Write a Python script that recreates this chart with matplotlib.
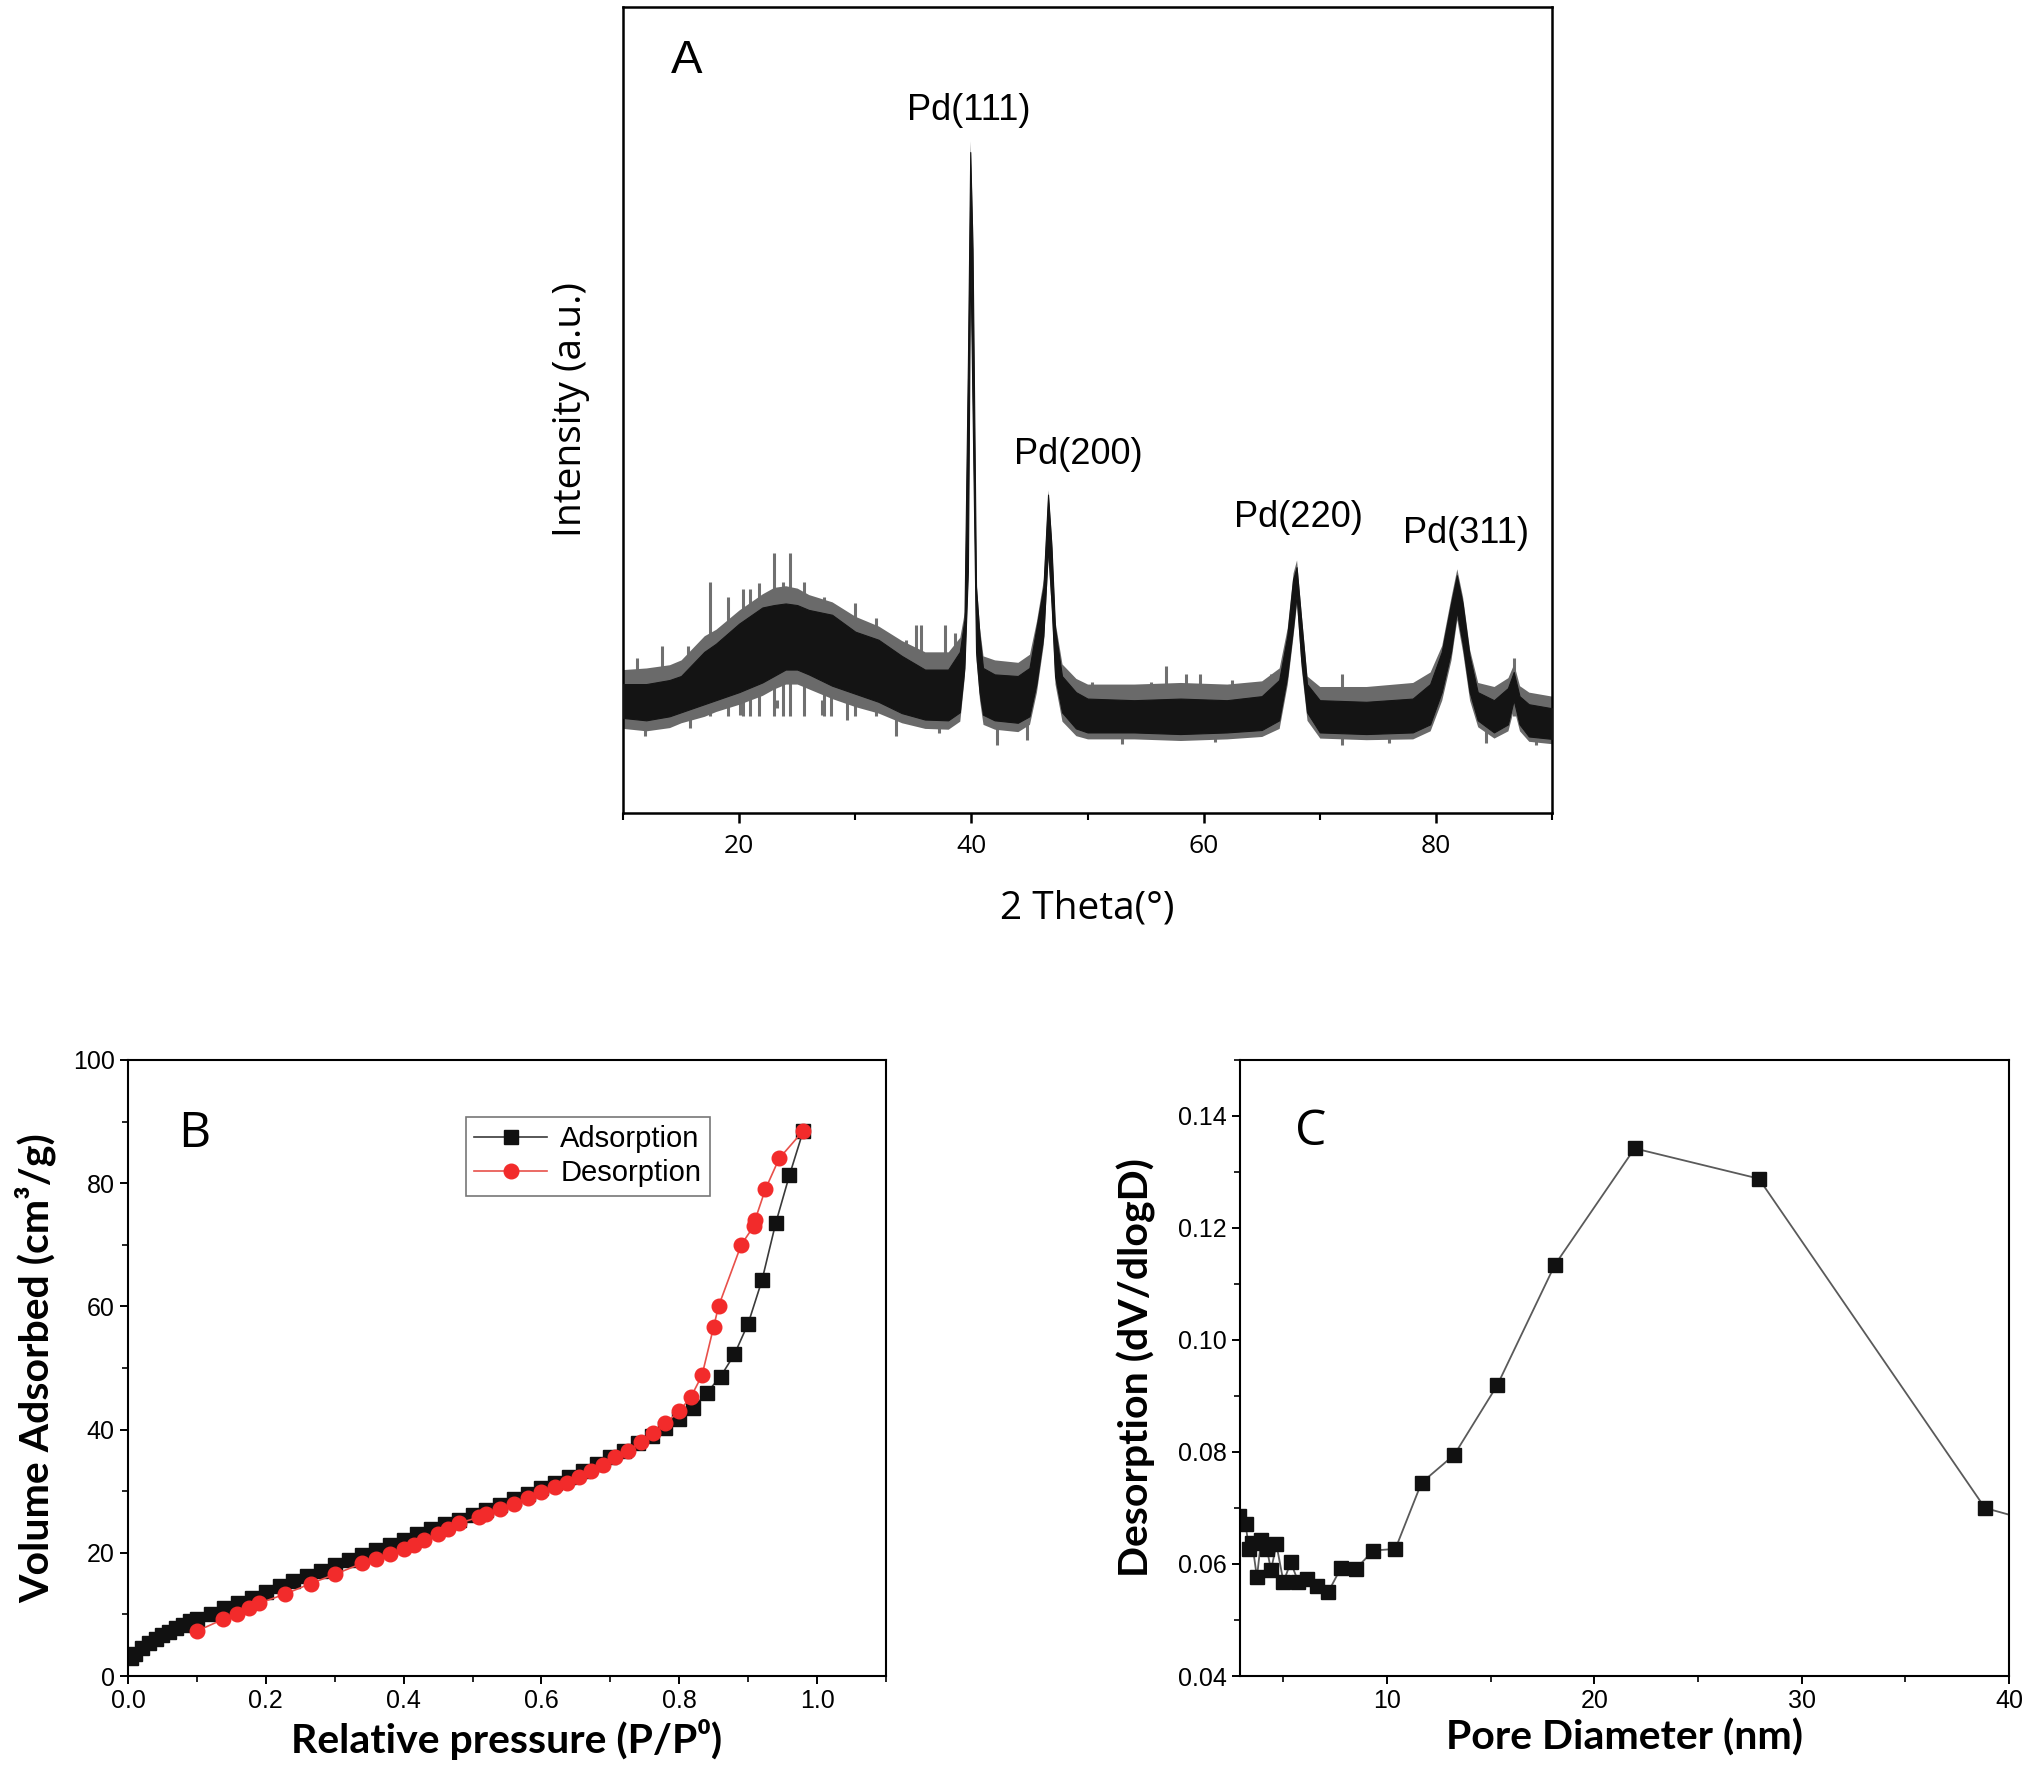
import matplotlib.pyplot as plt
from matplotlib.ticker import MultipleLocator, NullLocator

# ---- A: XRD pattern, envelope of the noisy trace ----
xrd_2theta = [10, 12, 14, 15, 16, 17, 18, 20, 22, 23, 24, 25, 26, 28, 30, 32, 34, 36, 38,
              39, 39.4, 39.7, 39.9, 40.1, 40.4, 40.7, 41, 42, 44, 45, 45.6, 46.2, 46.6,
              46.9, 47.2, 47.8, 49, 50, 54, 58, 62, 65, 66.5, 67.2, 67.7, 68.0, 68.4,
              68.9, 70, 74, 78, 79.5, 80.5, 81.3, 81.8, 82.3, 82.9, 83.6, 85, 86.2, 86.7,
              87.2, 88, 90]
xrd_core_low = [118, 115, 120, 125, 130, 135, 140, 150, 162, 170, 178, 178, 172, 158, 148,
                138, 124, 116, 115, 125, 180, 300, 700, 500, 200, 150, 122, 115, 112, 120,
                160, 220, 330, 260, 170, 125, 105, 100, 100, 98, 100, 103, 115, 170, 230,
                270, 190, 125, 100, 98, 100, 110, 150, 200, 250, 210, 150, 115, 100, 110,
                140, 110, 95, 92]
xrd_core_high = [160, 160, 165, 170, 185, 200, 210, 235, 255, 258, 260, 258, 252, 246, 225,
                 215, 195, 178, 178, 200, 240, 560, 820, 700, 280, 220, 180, 172, 170, 180,
                 230, 280, 395, 330, 230, 170, 150, 142, 140, 142, 140, 145, 165, 220, 290,
                 305, 240, 160, 140, 138, 142, 160, 200, 260, 295, 260, 195, 150, 140, 155,
                 175, 145, 135, 130]
xrd_fringe_low = [105, 102, 106, 112, 116, 120, 126, 135, 146, 154, 160, 160, 154, 142, 132,
                  124, 112, 105, 104, 114, 170, 290, 690, 490, 190, 140, 110, 104, 101, 110,
                  150, 210, 315, 250, 160, 114, 96, 92, 92, 90, 92, 95, 105, 160, 220, 260,
                  180, 115, 93, 91, 92, 102, 140, 190, 240, 200, 140, 107, 93, 102, 130,
                  102, 89, 86]
xrd_fringe_high = [178, 180, 184, 190, 205, 220, 228, 252, 272, 280, 282, 279, 271, 262, 244,
                   232, 214, 200, 200, 218, 250, 580, 834, 730, 290, 230, 195, 190, 187, 197,
                   238, 290, 401, 340, 238, 185, 167, 160, 160, 162, 160, 164, 180, 230, 298,
                   314, 248, 170, 157, 157, 162, 175, 208, 268, 303, 268, 203, 162, 157, 168,
                   185, 158, 150, 145]
# isolated spikes sticking out of the noise band (position, tip)
spike_up_x = [11.2, 13.4, 15.6, 17.46, 19.0, 20.3, 20.9, 21.7, 23.0, 23.8, 24.4, 25.6,
              27.3, 27.9, 30.0, 31.8, 34.4, 35.2, 35.7, 37.7, 38.6, 50.4, 52.8, 55.5, 56.8,
              58.5, 59.7, 62.4, 65.8, 71.9, 77.1, 78.8, 86.7]
spike_up_y = [192, 207, 207, 287, 268, 278, 278, 286, 322, 287, 322, 287, 268, 260, 260,
              242, 215, 233, 233, 233, 223, 163, 157, 163, 182, 173, 173, 165, 173, 173,
              155, 157, 192]
spike_down_x = [11.9, 15.8, 20.1, 23.3, 27.1, 29.3, 33.5, 37.2, 42.2, 44.8, 53.0, 61.0,
                71.9, 76.0, 84.3, 88.6]
spike_down_y = [95, 105, 122, 130, 122, 115, 95, 99, 84, 91, 86, 88, 84, 87, 87, 84]
peak_names = ["Pd(111)", "Pd(200)", "Pd(220)", "Pd(311)"]
peak_label_x = [39.8, 49.2, 68.2, 82.6]
peak_label_y = [872, 445, 367, 347]

# ---- B: N2 isotherm ----
ads_p = [0.005, 0.01, 0.02, 0.03, 0.04, 0.05, 0.06, 0.07, 0.08, 0.09, 0.10, 0.12, 0.14,
         0.16, 0.18, 0.20, 0.22, 0.24, 0.26, 0.28, 0.30, 0.32, 0.34, 0.36, 0.38, 0.40,
         0.42, 0.44, 0.46, 0.48, 0.50, 0.52, 0.54, 0.56, 0.58, 0.60, 0.62, 0.64, 0.66,
         0.68, 0.70, 0.72, 0.74, 0.76, 0.78, 0.80, 0.82, 0.84, 0.86, 0.88, 0.90, 0.92,
         0.94, 0.96, 0.98]
ads_v = [3.0, 3.6, 4.5, 5.3, 6.0, 6.6, 7.2, 7.8, 8.3, 8.9, 9.3, 10.0, 11.0, 11.9, 12.7,
         13.6, 14.6, 15.4, 16.3, 17.1, 18.0, 18.8, 19.7, 20.5, 21.3, 22.1, 23.0, 23.8,
         24.6, 25.4, 26.2, 27.0, 27.8, 28.7, 29.6, 30.5, 31.4, 32.3, 33.3, 34.4, 35.5,
         36.6, 37.8, 39.0, 40.3, 41.7, 43.5, 46.0, 48.6, 52.2, 57.2, 64.2, 73.5, 81.3, 88.5]
des_p = [0.98, 0.945, 0.925, 0.91, 0.908, 0.89, 0.857, 0.85, 0.833, 0.817, 0.80, 0.78,
         0.762, 0.745, 0.725, 0.707, 0.69, 0.672, 0.655, 0.637, 0.62, 0.60, 0.58, 0.56,
         0.54, 0.52, 0.51, 0.48, 0.465, 0.45, 0.43, 0.415, 0.40, 0.38, 0.36, 0.34, 0.30,
         0.265, 0.228, 0.19, 0.175, 0.158, 0.138, 0.10]
des_v = [88.5, 84.0, 79.0, 74.0, 73.0, 70.0, 60.0, 56.7, 48.8, 45.3, 43.0, 41.0, 39.4,
         38.0, 36.5, 35.5, 34.3, 33.3, 32.3, 31.4, 30.6, 29.8, 28.9, 28.0, 27.1, 26.3,
         25.8, 24.8, 23.9, 23.0, 22.1, 21.3, 20.6, 19.8, 19.0, 18.3, 16.5, 15.0, 13.3,
         11.8, 11.0, 10.1, 9.2, 7.3]

# ---- C: pore size distribution ----
pore_d = [2.5, 2.86, 3.17, 3.34, 3.49, 3.72, 3.92, 4.2, 4.4, 4.66, 5.0, 5.35, 5.72, 6.13,
          6.64, 7.16, 7.76, 8.48, 9.34, 10.4, 11.66, 13.24, 15.31, 18.09, 21.94, 27.93,
          38.84, 50.0]
pore_dv = [0.0700, 0.0686, 0.0671, 0.0627, 0.0638, 0.0576, 0.0642, 0.0627, 0.0589, 0.0635,
           0.0568, 0.0603, 0.0568, 0.0574, 0.0560, 0.0550, 0.0592, 0.0591, 0.0624, 0.0627,
           0.0745, 0.0795, 0.0919, 0.1134, 0.1342, 0.1288, 0.0700, 0.0585]

fig = plt.figure(figsize=(20.32, 17.76), dpi=100)

# ---------------- panel A ----------------
axA = fig.add_axes([0.3066, 0.5422, 0.4572, 0.4539])
axA.vlines(spike_up_x, 120, spike_up_y, color="#707070", lw=2.2, zorder=1)
axA.vlines(spike_down_x, spike_down_y, 140, color="#707070", lw=2.2, zorder=1)
axA.fill_between(xrd_2theta, xrd_fringe_low, xrd_fringe_high, color="#6a6a6a", lw=0,
                 zorder=2)
axA.fill_between(xrd_2theta, xrd_core_low, xrd_core_high, color="#141414", lw=0.8,
                 zorder=3)
axA.set_xlim(10, 90)
axA.set_ylim(0, 1000)
axA.xaxis.set_major_locator(MultipleLocator(20))
axA.xaxis.set_minor_locator(MultipleLocator(10))
axA.yaxis.set_major_locator(NullLocator())
axA.tick_params(axis="x", which="major", direction="out", length=7, width=1.8,
                labelsize=19, pad=8)
axA.tick_params(axis="x", which="minor", direction="out", length=5, width=1.5)
for lab in axA.get_xticklabels():
    lab.set_fontfamily("Open Sans")
for sp in axA.spines.values():
    sp.set_linewidth(1.8)
axA.set_xlabel("2 Theta(°)", fontsize=28, fontfamily="Open Sans", labelpad=22)
axA.set_ylabel("Intensity (a.u.)", fontsize=28, fontfamily="Open Sans", labelpad=24)
for name, lx, ly in zip(peak_names, peak_label_x, peak_label_y):
    axA.text(lx, ly, name, fontsize=26, fontfamily="Liberation Sans",
             ha="center", va="center")
axA.text(15.5, 933, "A", fontsize=34, fontfamily="Liberation Sans",
         ha="center", va="center")

# ---------------- panel B ----------------
axB = fig.add_axes([0.0630, 0.0563, 0.3730, 0.3469])
axB.plot(ads_p, ads_v, color="#3a3a3a", lw=1.2, marker="s", ms=9.5,
         mfc="#111111", mec="#111111", label="Adsorption")
axB.plot(des_p, des_v, color="#e8504a", lw=1.2, marker="o", ms=10.5,
         mfc="#f22b2b", mec="#f22b2b", label="Desorption")
axB.set_xlim(0, 1.1)
axB.set_ylim(0, 100)
axB.xaxis.set_major_locator(MultipleLocator(0.2))
axB.xaxis.set_minor_locator(MultipleLocator(0.1))
axB.yaxis.set_major_locator(MultipleLocator(20))
axB.yaxis.set_minor_locator(MultipleLocator(10))
axB.xaxis.set_major_formatter(plt.FuncFormatter(lambda v, p: f"{v:.1f}"))
axB.tick_params(which="major", direction="out", length=6, width=1.4, labelsize=18)
axB.tick_params(which="minor", direction="out", length=4, width=1.2)
for lab in axB.get_xticklabels() + axB.get_yticklabels():
    lab.set_fontfamily("Liberation Sans")
for sp in axB.spines.values():
    sp.set_linewidth(1.5)
axB.set_xlabel("Relative pressure (P/P⁰)", fontsize=29.5, fontweight="bold",
               fontfamily=["Lato", "DejaVu Sans"], labelpad=4)
axB.set_ylabel("Volume Adsorbed (cm³/g)", fontsize=29.5, fontweight="bold",
               fontfamily=["Lato", "DejaVu Sans"], labelpad=12)
leg = axB.legend(loc="upper left", bbox_to_anchor=(0.49, 90.8),
                 bbox_transform=axB.transData, frameon=True, fancybox=False,
                 prop={"family": "Liberation Sans", "size": 21},
                 handlelength=2.5, handletextpad=0.45, borderpad=0.3,
                 labelspacing=0.2, borderaxespad=0)
leg.get_frame().set_edgecolor("#555555")
leg.get_frame().set_linewidth(1.2)
axB.text(0.096, 88, "B", fontsize=36, fontfamily="Open Sans", ha="center", va="center")

# ---------------- panel C ----------------
axC = fig.add_axes([0.6102, 0.0563, 0.3785, 0.3469])
axC.plot(pore_d, pore_dv, color="#5a5a5a", lw=1.3, marker="s", ms=10.5,
         mfc="#111111", mec="#111111")
axC.set_xlim(2.9, 40)
axC.set_ylim(0.04, 0.15)
axC.xaxis.set_major_locator(MultipleLocator(10))
axC.xaxis.set_minor_locator(MultipleLocator(5))
axC.yaxis.set_major_locator(MultipleLocator(0.02))
axC.yaxis.set_minor_locator(MultipleLocator(0.01))
axC.yaxis.set_major_formatter(plt.FuncFormatter(lambda v, p: f"{v:.2f}"))
axC.tick_params(which="major", direction="out", length=6, width=1.4, labelsize=18)
axC.tick_params(which="minor", direction="out", length=4, width=1.2)
for lab in axC.get_xticklabels() + axC.get_yticklabels():
    lab.set_fontfamily("Liberation Sans")
for sp in axC.spines.values():
    sp.set_linewidth(1.5)
axC.set_xlabel("Pore Diameter (nm)", fontsize=29.5, fontweight="bold",
               fontfamily="Lato", labelpad=4)
axC.set_ylabel("Desorption (dV/dlogD)", fontsize=29.5, fontweight="bold",
               fontfamily="Lato", labelpad=16)
axC.text(6.3, 0.137, "C", fontsize=36, fontfamily="Open Sans", ha="center", va="center")

fig.savefig("out.png", dpi=100)
